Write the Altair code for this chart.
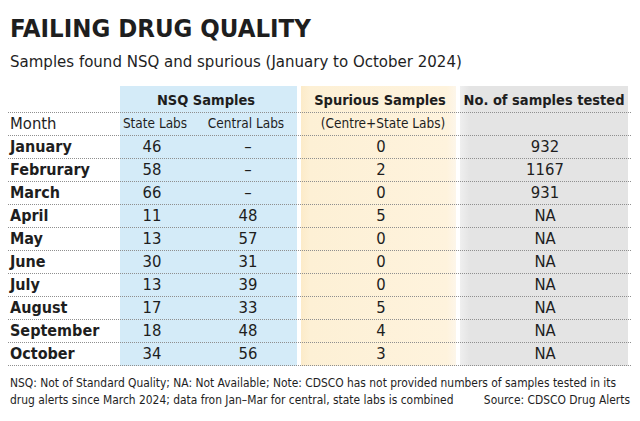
import altair as alt
import pandas as pd

# ---------------- data ----------------
months = ["January", "Februrary", "March", "April", "May", "June",
          "July", "August", "September", "October"]
state_labs = ["46", "58", "66", "11", "13", "30", "13", "17", "18", "34"]
central_labs = ["–", "–", "–", "48", "57", "31", "39", "33", "48", "56"]
spurious = ["0", "2", "0", "5", "0", "0", "0", "5", "4", "3"]
tested = ["932", "1167", "931", "NA", "NA", "NA", "NA", "NA", "NA", "NA"]

title_text = "FAILING DRUG QUALITY"
subtitle_text = "Samples found NSQ and spurious (January to October 2024)"
group_headers = ["NSQ Samples", "Spurious Samples", "No. of samples tested"]
sub_headers = ["Month", "State Labs", "Central Labs", "(Centre+State Labs)"]
footer_lines = [
    "NSQ: Not of Standard Quality; NA: Not Available; Note: CDSCO has not provided numbers of samples tested in its",
    "drug alerts since March 2024; data fron Jan–Mar for central, state labs is combined",
]
source_text = "Source: CDSCO Drug Alerts"

# ---------------- layout / style ----------------
FONT = "DejaVu Sans Condensed, Liberation Sans, sans-serif"
INK = "#1e1e1e"
W, H = 624, 405
OFF = 8  # page margin

def px(v):
    return v - OFF

row_scale = alt.Scale(domain=[-1, 10], range=[px(101), px(354)], zero=False, nice=False)

rows = pd.DataFrame({
    "row": list(range(1, len(months) + 1)),
    "month": months,
    "state": state_labs,
    "central": central_labs,
    "spurious": spurious,
    "tested": tested,
})

# backgrounds
def bg(x1, x2, fill):
    return alt.Chart(pd.DataFrame({"a": [0]})).mark_rect(fill=fill).encode(
        x=alt.value(px(x1)), x2=alt.value(px(x2)),
        y=alt.value(px(86)), y2=alt.value(px(366)),
    )

blue_bg = bg(120, 297, "#d4ebf8")
orange_bg = bg(301, 456, alt.LinearGradient(
    gradient="linear", x1=0, x2=1, y1=0, y2=0,
    stops=[alt.GradientStop(color="#fcebc9", offset=0),
           alt.GradientStop(color="#fdf0d5", offset=0.06),
           alt.GradientStop(color="#fef3dd", offset=0.94),
           alt.GradientStop(color="#fdf6ea", offset=1)]))
gray_bg = bg(460, 628, alt.LinearGradient(
    gradient="linear", x1=0, x2=1, y1=0, y2=0,
    stops=[alt.GradientStop(color="#efefef", offset=0),
           alt.GradientStop(color="#e4e4e4", offset=0.06),
           alt.GradientStop(color="#e4e4e4", offset=1)]))

# dotted separators
seps = pd.DataFrame({"b": [i + 0.5 for i in range(-1, 11)]})
rules = alt.Chart(seps).mark_rule(color="#8f8f8f", strokeWidth=1, strokeDash=[1, 1]).encode(
    y=alt.Y("b:Q", scale=row_scale, axis=None),
    x=alt.value(0), x2=alt.value(px(632)),
)

def col_text(field, xpos, align="center", weight="normal", size=16.5):
    return alt.Chart(rows).mark_text(
        font=FONT, fontSize=size, fontWeight=weight, color=INK,
        align=align, baseline="middle",
    ).encode(
        y=alt.Y("row:Q", scale=row_scale, axis=None),
        x=alt.value(px(xpos)),
        text=f"{field}:N",
    )

month_t = col_text("month", 10, align="left", weight="bold", size=16)
state_t = col_text("state", 152)
central_t = col_text("central", 248)
spur_t = col_text("spurious", 381)
tested_t = col_text("tested", 545)

hdr1 = pd.DataFrame({"label": group_headers, "xpos": [px(206), px(380), px(544)], "row": [-1] * 3})
hdr2 = pd.DataFrame({"label": sub_headers, "xpos": [px(10), px(155), px(246), px(383)],
                     "row": [0] * 4})

hdr1_t = alt.Chart(hdr1).mark_text(
    font=FONT, fontSize=14.5, fontWeight="bold", color=INK, baseline="middle", align="center"
).encode(
    y=alt.Y("row:Q", scale=row_scale, axis=None),
    x=alt.X("xpos:Q", scale=None),
    text="label:N",
)
hdr2_left = alt.Chart(hdr2.iloc[:1]).mark_text(
    font=FONT, fontSize=16.5, color=INK, baseline="middle", align="left"
).encode(
    y=alt.Y("row:Q", scale=row_scale, axis=None),
    x=alt.X("xpos:Q", scale=None),
    text="label:N",
)
hdr2_c = alt.Chart(hdr2.iloc[1:]).mark_text(
    font=FONT, fontSize=13.5, color=INK, baseline="middle", align="center"
).encode(
    y=alt.Y("row:Q", scale=row_scale, axis=None),
    x=alt.X("xpos:Q", scale=None),
    text="label:N",
)

one = pd.DataFrame({"a": [0]})
title_t = alt.Chart(one).mark_text(
    font=FONT, fontSize=25.5, fontWeight="bold", color=INK, align="left", baseline="alphabetic",
    text=title_text,
).encode(x=alt.value(px(10)), y=alt.value(px(37)))
subtitle_t = alt.Chart(one).mark_text(
    font=FONT, fontSize=16.7, color=INK, align="left", baseline="alphabetic",
    text=subtitle_text,
).encode(x=alt.value(px(10)), y=alt.value(px(67)))

foot = pd.DataFrame({"line": footer_lines, "ypos": [px(387), px(404)]})
foot_t = alt.Chart(foot).mark_text(
    font=FONT, fontSize=11.9, color=INK, align="left", baseline="alphabetic",
).encode(x=alt.value(px(10)), y=alt.Y("ypos:Q", scale=None), text="line:N")
source_t = alt.Chart(one).mark_text(
    font=FONT, fontSize=11.9, color=INK, align="right", baseline="alphabetic",
    text=source_text,
).encode(x=alt.value(px(630)), y=alt.value(px(404)))

chart = alt.layer(
    blue_bg, orange_bg, gray_bg, rules,
    hdr1_t, hdr2_left, hdr2_c,
    month_t, state_t, central_t, spur_t, tested_t,
    title_t, subtitle_t, foot_t, source_t,
).properties(
    width=W, height=H,
    autosize=alt.AutoSizeParams(type="none"),
    padding=0,
    background="white",
).configure_view(stroke=None)

chart.save("out.html", embed_options={"renderer": "svg", "actions": False})
